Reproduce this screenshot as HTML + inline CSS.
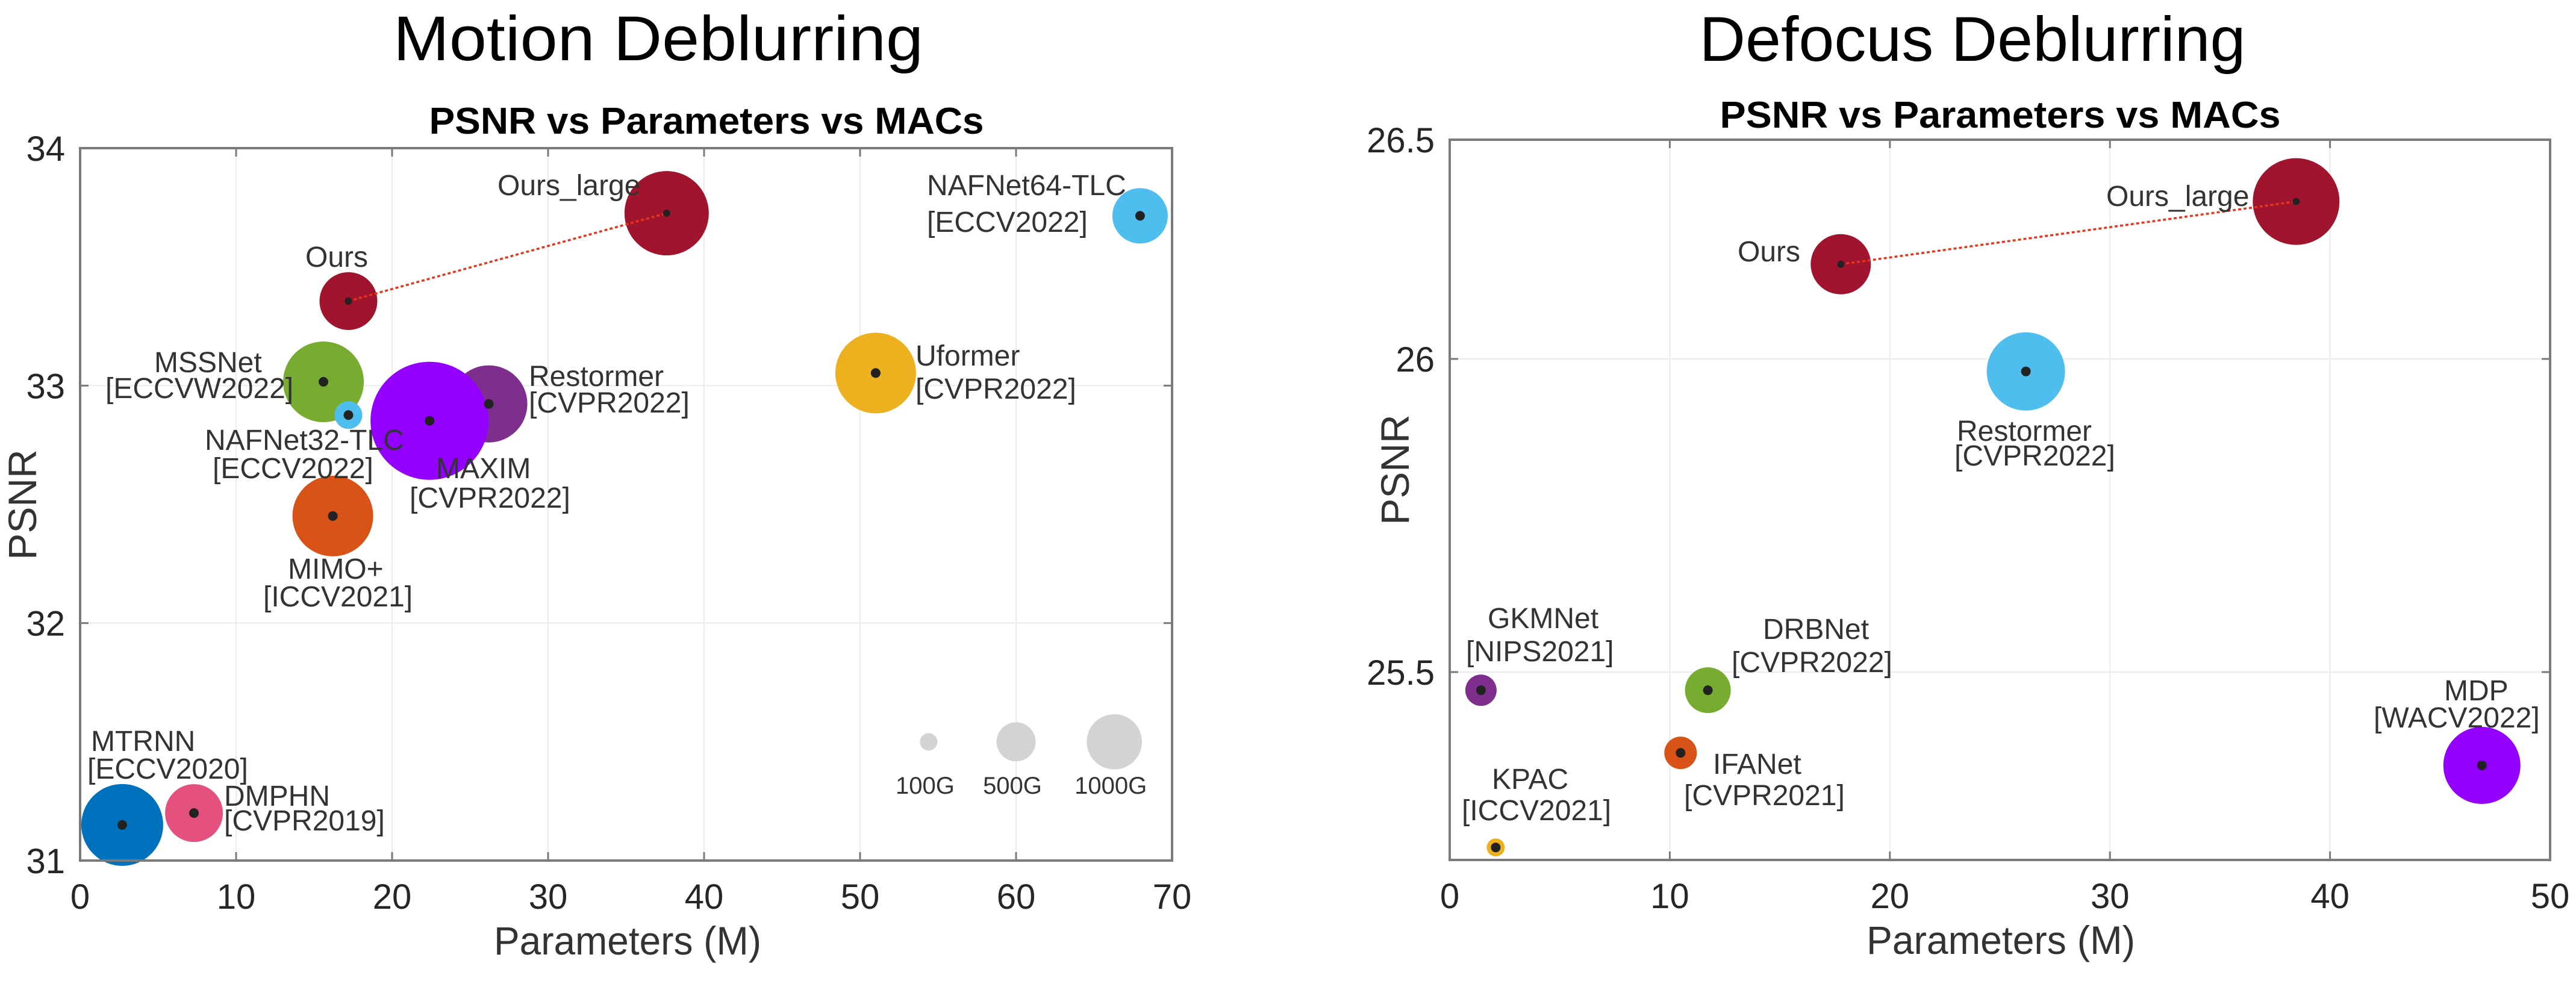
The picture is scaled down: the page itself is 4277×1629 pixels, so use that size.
<!DOCTYPE html>
<html><head><meta charset="utf-8"><style>
html,body{margin:0;padding:0;background:#fff;}
svg{display:block;font-family:"Liberation Sans",sans-serif;}
.lbl{font-size:48px;fill:#333;}
.tick{font-size:58px;fill:#262626;}
.leg{font-size:40px;fill:#333;}
</style></head><body>
<svg id="root" width="4277" height="1629" viewBox="0 0 4277 1629" xmlns="http://www.w3.org/2000/svg">
<g id="left">
<text x="1093" y="100" text-anchor="middle" font-family="'Liberation Sans Narrow','Liberation Sans',sans-serif" font-size="105" textLength="880" lengthAdjust="spacingAndGlyphs" fill="#000">Motion Deblurring</text>
<text x="1173" y="222" text-anchor="middle" font-size="62" font-weight="bold" textLength="921" lengthAdjust="spacingAndGlyphs" fill="#000">PSNR vs Parameters vs MACs</text>
<text x="1042" y="1585" text-anchor="middle" font-size="66" textLength="444" lengthAdjust="spacingAndGlyphs" fill="#333">Parameters (M)</text>
<text x="0" y="0" transform="translate(60,838) rotate(-90)" text-anchor="middle" font-size="66" fill="#333">PSNR</text>
</g>
<g id="right">
<text x="3275" y="101" text-anchor="middle" font-family="'Liberation Sans Narrow','Liberation Sans',sans-serif" font-size="105" textLength="907" lengthAdjust="spacingAndGlyphs" fill="#000">Defocus Deblurring</text>
<text x="3321" y="212" text-anchor="middle" font-size="62" font-weight="bold" textLength="931" lengthAdjust="spacingAndGlyphs" fill="#000">PSNR vs Parameters vs MACs</text>
<text x="3322" y="1584" text-anchor="middle" font-size="66" textLength="446" lengthAdjust="spacingAndGlyphs" fill="#333">Parameters (M)</text>
<text x="0" y="0" transform="translate(2339,780) rotate(-90)" text-anchor="middle" font-size="66" fill="#333">PSNR</text>
</g>
</svg>
<script>
// ---- Motion deblurring data ----
const motionNames = ["MTRNN","DMPHN","MSSNet","MIMO+","NAFNet32-TLC","Restormer","MAXIM","Ours","Ours_large","Uformer","NAFNet64-TLC"];
const motionParams = [2.7, 7.3, 15.6, 16.2, 17.2, 26.2, 22.4, 17.2, 37.6, 51.0, 67.95];
const motionPsnr = [31.15, 31.20, 33.016, 32.451, 32.876, 32.923, 32.852, 33.356, 33.726, 33.053, 33.715];
const motionMacs = [2199, 1096, 2135, 2135, 252, 1948, 4568, 1096, 2331, 2135, 1006];
const motionColors = ["#0072bd","#e5517f","#77ac30","#d95319","#4dbeee","#7e2f8e","#9400ff","#a0142e","#a0142e","#edb120","#4dbeee"];
const motionXTicks = [0,10,20,30,40,50,60,70];
const motionYTicks = [31,32,33,34];
const legendMacs = [100,500,1000];
const legendLabels = ["100G","500G","1000G"];
const legendX = [54.4,60.0,66.3];
const legendY = 31.5;
const motionLabels = [
 ["Ours_large",826,324],["Ours",507,443],["NAFNet64-TLC",1539,324],["[ECCV2022]",1539,385],
 ["MSSNet",256,618],["[ECCVW2022]",175,661],["Uformer",1520,607],["[CVPR2022]",1520,662],
 ["Restormer",878,641],["[CVPR2022]",878,685],["NAFNet32-TLC",340,747],["[ECCV2022]",353,794],
 ["MAXIM",724,794],["[CVPR2022]",680,843],["MIMO+",478,961],["[ICCV2021]",437,1007],
 ["MTRNN",151,1247],["[ECCV2020]",145,1293],["DMPHN",372,1338],["[CVPR2019]",372,1379]];

// ---- Defocus deblurring data ----
const defocusNames = ["KPAC","GKMNet","IFANet","DRBNet","Restormer","MDP","Ours","Ours_large"];
const defocusParams = [2.09, 1.42, 10.49, 11.73, 26.18, 46.9, 17.77, 38.46];
const defocusPsnr = [25.22, 25.471, 25.371, 25.471, 25.98, 25.351, 26.216, 26.359];
const defocusMacs = [107, 322, 347, 687, 2010, 1948, 1189, 2466];
const defocusColors = ["#edb120","#7e2f8e","#d95319","#77ac30","#4dbeee","#9400ff","#a0142e","#a0142e"];
const defocusXTicks = [0,10,20,30,40,50];
const defocusYTicks = [25.5,26,26.5];
const defocusLabels = [
 ["Ours_large",3497,342],["Ours",2885,434],["Restormer",3249,732],["[CVPR2022]",3245,773],
 ["GKMNet",2470,1043],["[NIPS2021]",2434,1098],["DRBNet",2927,1061],["[CVPR2022]",2875,1116],
 ["IFANet",2844,1285],["[CVPR2021]",2796,1337],["KPAC",2477,1310],["[ICCV2021]",2427,1362],
 ["MDP",4058,1163],["[WACV2022]",3941,1208]];

const NS="http://www.w3.org/2000/svg";
function mk(parent,tag,attrs){const e=document.createElementNS(NS,tag);for(const k in attrs)e.setAttribute(k,attrs[k]);parent.appendChild(e);return e;}
function rOf(macs){return 1.45*Math.sqrt(macs);}
function lin(d0,d1,p0,p1){return v=>p0+(v-d0)*(p1-p0)/(d1-d0);}
function piece(dom,pix){return v=>{for(let i=0;i<dom.length-1;i++){if(v<=dom[i+1]||i===dom.length-2){return pix[i]+(v-dom[i])*(pix[i+1]-pix[i])/(dom[i+1]-dom[i]);}}};}

function drawChart(g,box,xs,ys,xTicks,yTicks,yFmt,names,px,py,macs,cols,labels,oursIdx,largeIdx,prefix){
  // grid
  xTicks.forEach(t=>{const x=xs(t);
    const l=mk(g,'line',{x1:x,x2:x,y1:box.t,y2:box.b,stroke:'#ebebeb','stroke-width':2});
    
    
    const tk=mk(g,'text',{x:x,y:box.b+80,'text-anchor':'middle',class:'tick'});tk.textContent=t;
    
    
  });
  yTicks.forEach(t=>{const y=ys(t);
    const l=mk(g,'line',{x1:box.l,x2:box.r,y1:y,y2:y,stroke:'#ebebeb','stroke-width':2});
    
    
    const tk=mk(g,'text',{x:box.l-25,y:y+21,'text-anchor':'end',class:'tick'});tk.textContent=yFmt(t);
    
    
  });
  // bubbles
  names.forEach((n,i)=>{
    const c=mk(g,'circle',{cx:xs(px[i]),cy:ys(py[i]),r:rOf(macs[i]),fill:cols[i]});
    
    
  });
  // dotted line
  const ln=mk(g,'line',{x1:xs(px[oursIdx]),y1:ys(py[oursIdx]),x2:xs(px[largeIdx]),y2:ys(py[largeIdx]),stroke:'#e8351a','stroke-width':3.5,'stroke-dasharray':'5 4'});
  
  
  names.forEach((n,i)=>{
    const d=mk(g,'circle',{cx:xs(px[i]),cy:ys(py[i]),r:(i===oursIdx||i===largeIdx)?6:8,fill:'#222'});
    
    
  });
  // box
  const bx=mk(g,'rect',{x:box.l,y:box.t,width:box.r-box.l,height:box.b-box.t,fill:'none',stroke:'#7a7a7a','stroke-width':4});
  
  
  xTicks.forEach(t=>{const x=xs(t);
    mk(g,'line',{x1:x,x2:x,y1:box.b,y2:box.b-14,stroke:'#7a7a7a','stroke-width':3});
    mk(g,'line',{x1:x,x2:x,y1:box.t,y2:box.t+14,stroke:'#7a7a7a','stroke-width':3});
  });
  yTicks.forEach(t=>{const y=ys(t);
    mk(g,'line',{x1:box.l,x2:box.l+14,y1:y,y2:y,stroke:'#7a7a7a','stroke-width':3});
    mk(g,'line',{x1:box.r,x2:box.r-14,y1:y,y2:y,stroke:'#7a7a7a','stroke-width':3});
  });
  labels.forEach(L=>{
    const t=mk(g,'text',{x:L[1],y:L[2],class:'lbl'});t.textContent=L[0];
    
    
  });
}

const gl=document.getElementById('left');
const boxL={l:133,r:1946,t:246,b:1429};
const xsL=lin(0,70,boxL.l,boxL.r), ysL=lin(31,34,boxL.b,boxL.t);
drawChart(gl,boxL,xsL,ysL,motionXTicks,motionYTicks,v=>String(v),motionNames,motionParams,motionPsnr,motionMacs,motionColors,motionLabels,7,8,'motion');
legendMacs.forEach((m,i)=>{
  const c=mk(gl,'circle',{cx:xsL(legendX[i]),cy:ysL(legendY),r:rOf(m),fill:'#d3d3d3'});
  
  
  const t=mk(gl,'text',{x:xsL(legendX[i])-6,y:1318,'text-anchor':'middle',class:'leg'});t.textContent=legendLabels[i];
  
  
});

const gr=document.getElementById('right');
const boxR={l:2407,r:4234,t:232,b:1428};
const xsR=lin(0,50,boxR.l,boxR.r), ysR=piece([25.2,25.5,26,26.5],[1428,1116,596,232]);
drawChart(gr,boxR,xsR,ysR,defocusXTicks,defocusYTicks,v=>String(v),defocusNames,defocusParams,defocusPsnr,defocusMacs,defocusColors,defocusLabels,6,7,'defocus');
</script>
</body></html>
